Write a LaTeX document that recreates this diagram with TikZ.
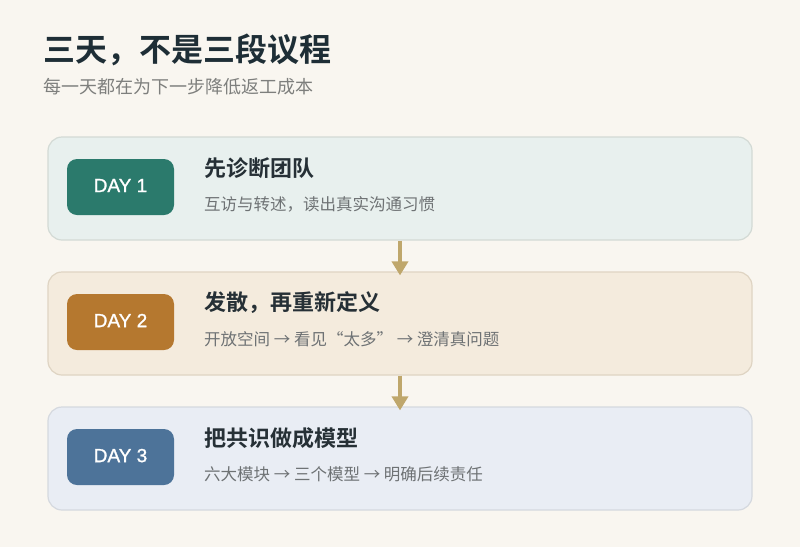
\documentclass[tikz,border=0pt]{standalone}
\usepackage{fontspec}
\setmainfont{Noto Sans CJK SC}
\newfontfamily\cjkbold{Noto Sans CJK SC Bold}
\newfontfamily\daylabel[FakeBold=1.2]{Liberation Sans}
\usetikzlibrary{arrows.meta}
\definecolor{pagebg}{HTML}{F9F6F0}
\definecolor{titleink}{HTML}{1E2E36}
\definecolor{headink}{HTML}{263036}
\definecolor{subink}{HTML}{6E7274}
\definecolor{leadink}{HTML}{7E7F7D}
\definecolor{flowink}{HTML}{BFA76C}
\definecolor{fillA}{HTML}{E8F0EE}
\definecolor{lineA}{HTML}{D3DAD5}
\definecolor{fillB}{HTML}{F4EBDD}
\definecolor{lineB}{HTML}{DFD4C3}
\definecolor{fillC}{HTML}{E9EDF4}
\definecolor{lineC}{HTML}{D5D9DF}
\definecolor{badgeA}{HTML}{2B7A6C}
\definecolor{badgeB}{HTML}{B5782F}
\definecolor{badgeC}{HTML}{4D7399}
\tikzset{>=latex,
  card/.style={rounded corners=14pt, line width=1.2pt, minimum width=704pt, minimum height=103pt, inner sep=0pt},
  badge/.style={rounded corners=10pt, minimum width=107pt, minimum height=56pt, inner sep=0pt, text=white, font=\daylabel\fontsize{19}{22}\selectfont},
  head/.style={anchor=west, inner sep=0pt, text=headink, font=\cjkbold\fontsize{22}{26}\selectfont},
  sub/.style={anchor=west, inner sep=0pt, text=subink, font=\fontsize{16.5}{20}\selectfont},
  flow/.style={draw=flowink, line width=3.5pt, -{Triangle[width=16pt,length=14pt]}}}
\begin{document}
\begin{tikzpicture}[x=1pt,y=-1pt]
\useasboundingbox[fill=pagebg] (0,0) rectangle (800,547);
  % title block
  \node[anchor=west, inner sep=0pt, text=titleink, font=\cjkbold\fontsize{32}{38}\selectfont] (title) at (43,50) {三天，不是三段议程};
  \node[anchor=west, inner sep=0pt, text=leadink, font=\fontsize{18}{22}\selectfont] (lead) at (43,87) {每一天都在为下一步降低返工成本};

  % three day cards
  \foreach \i/\top/\c/\h/\s in {%
      1/137/A/先诊断团队/{互访与转述，读出真实沟通习惯},
      2/272/B/发散，再重新定义/{开放空间 → 看见“太多” → 澄清真问题},
      3/407/C/把共识做成模型/{六大模块 → 三个模型 → 明确后续责任}}
  {
    \node[card, fill=fill\c, draw=line\c] (card\i) at (400,\top+51.5) {};
    \node[badge, fill=badge\c] (badge\i) at (120.5,\top+50) {\raisebox{3pt}{DAY \i}};
    \node[head] (head\i) at (204,\top+31) {\h};
    \node[sub] (sub\i) at (204,\top+67) {\s};
  }

  % connectors
  \draw[flow] (card1.south) -- ([yshift=-4pt]card2.north);
  \draw[flow] (card2.south) -- ([yshift=-4pt]card3.north);
\end{tikzpicture}
\end{document}
